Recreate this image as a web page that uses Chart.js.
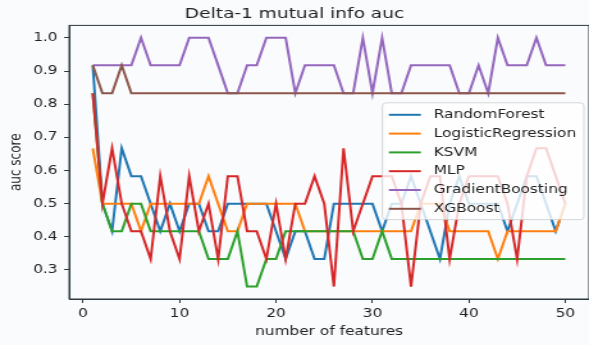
<!DOCTYPE html>
<html>
<head>
<meta charset="utf-8">
<script src="https://cdn.jsdelivr.net/npm/chart.js@4.4.1/dist/chart.umd.min.js"></script>
<style>
  html, body { margin: 0; padding: 0; background: #fafbfd; overflow: hidden; }
  /* the reference figure is stretched sideways, so the chart is drawn narrow and widened */
  #wrap { width: 460px; height: 345px; transform: scaleX(1.2804); transform-origin: 0 0; }
</style>
</head>
<body>
<div id="wrap"><canvas id="chart" width="460" height="345"></canvas></div>
<script>
// number of features (x)
const features = [1, 2, 3, 4, 5, 6, 7, 8, 9, 10, 11, 12, 13, 14, 15, 16, 17, 18, 19, 20,
  21, 22, 23, 24, 25, 26, 27, 28, 29, 30, 31, 32, 33, 34, 35, 36, 37, 38, 39, 40,
  41, 42, 43, 44, 45, 46, 47, 48, 49, 50];

// auc score per model
const randomForest = [0.917, 0.5, 0.417, 0.667, 0.583, 0.583, 0.5, 0.417, 0.5, 0.417,
  0.5, 0.5, 0.417, 0.417, 0.5, 0.5, 0.5, 0.5, 0.5, 0.417,
  0.333, 0.417, 0.417, 0.333, 0.333, 0.5, 0.5, 0.5, 0.5, 0.5,
  0.417, 0.5, 0.5, 0.583, 0.5, 0.417, 0.333, 0.5, 0.583, 0.5,
  0.5, 0.5, 0.5, 0.417, 0.5, 0.583, 0.583, 0.5, 0.417, 0.5];
const logisticRegression = [0.667, 0.5, 0.5, 0.5, 0.5, 0.417, 0.5, 0.5, 0.5, 0.5,
  0.5, 0.5, 0.583, 0.5, 0.417, 0.417, 0.5, 0.5, 0.5, 0.5,
  0.5, 0.5, 0.417, 0.417, 0.417, 0.417, 0.417, 0.417, 0.417, 0.417,
  0.417, 0.417, 0.417, 0.417, 0.5, 0.5, 0.5, 0.417, 0.417, 0.417,
  0.417, 0.417, 0.333, 0.417, 0.417, 0.417, 0.417, 0.417, 0.417, 0.5];
const ksvm = [0.833, 0.5, 0.417, 0.417, 0.5, 0.5, 0.417, 0.417, 0.417, 0.417,
  0.417, 0.417, 0.333, 0.333, 0.333, 0.417, 0.25, 0.25, 0.333, 0.333,
  0.417, 0.417, 0.417, 0.417, 0.417, 0.417, 0.417, 0.417, 0.333, 0.333,
  0.417, 0.333, 0.333, 0.333, 0.333, 0.333, 0.333, 0.333, 0.333, 0.333,
  0.333, 0.333, 0.333, 0.333, 0.333, 0.333, 0.333, 0.333, 0.333, 0.333];
const mlp = [0.833, 0.5, 0.667, 0.5, 0.417, 0.417, 0.333, 0.583, 0.417, 0.333,
  0.583, 0.417, 0.5, 0.333, 0.583, 0.583, 0.417, 0.417, 0.333, 0.5,
  0.333, 0.5, 0.5, 0.583, 0.5, 0.25, 0.667, 0.417, 0.5, 0.583,
  0.583, 0.583, 0.5, 0.25, 0.5, 0.583, 0.583, 0.333, 0.5, 0.583,
  0.583, 0.583, 0.583, 0.5, 0.333, 0.583, 0.667, 0.667, 0.583, 0.5];
const gradientBoosting = [0.917, 0.917, 0.917, 0.917, 0.917, 1.0, 0.917, 0.917, 0.917, 0.917,
  1.0, 1.0, 1.0, 0.917, 0.833, 0.833, 0.917, 0.917, 1.0, 1.0,
  1.0, 0.833, 0.917, 0.917, 0.917, 0.917, 0.833, 0.833, 1.0, 0.833,
  1.0, 0.833, 0.833, 0.917, 0.917, 0.917, 0.917, 0.917, 0.833, 0.833,
  0.917, 0.833, 1.0, 0.917, 0.917, 0.917, 1.0, 0.917, 0.917, 0.917];
const xgBoost = [0.917, 0.833, 0.833, 0.917, 0.833, 0.833, 0.833, 0.833, 0.833, 0.833,
  0.833, 0.833, 0.833, 0.833, 0.833, 0.833, 0.833, 0.833, 0.833, 0.833,
  0.833, 0.833, 0.833, 0.833, 0.833, 0.833, 0.833, 0.833, 0.833, 0.833,
  0.833, 0.833, 0.833, 0.833, 0.833, 0.833, 0.833, 0.833, 0.833, 0.833,
  0.833, 0.833, 0.833, 0.833, 0.833, 0.833, 0.833, 0.833, 0.833, 0.833];

const seriesNames = ['RandomForest', 'LogisticRegression', 'KSVM', 'MLP', 'GradientBoosting', 'XGBoost'];
const seriesValues = [randomForest, logisticRegression, ksvm, mlp, gradientBoosting, xgBoost];
const seriesColors = ['#1f77b4', '#ff7f0e', '#2ca02c', '#d62728', '#9467bd', '#8c564b'];

const xTicks = [0, 10, 20, 30, 40, 50];
const yTicks = [0.3, 0.4, 0.5, 0.6, 0.7, 0.8, 0.9, 1.0];

const AXIS = '#2e3a40';
const TEXT = '#222';
Chart.defaults.font.family = "'DejaVu Sans', sans-serif";

// spines on all four sides + matplotlib-style legend box inside the axes
const frameAndLegend = {
  id: 'frameAndLegend',
  afterDraw(chart) {
    const {ctx, chartArea: a} = chart;
    ctx.save();
    ctx.strokeStyle = AXIS;
    ctx.lineWidth = 1;
    ctx.strokeRect(a.left, a.top, a.right - a.left, a.bottom - a.top);

    const sets = chart.data.datasets;
    ctx.font = "12px 'DejaVu Sans'";
    const textW = Math.max(...sets.map((d) => ctx.measureText(d.label).width));
    const rowH = 18.8;
    const w = 40 + textW + 6;
    const h = rowH * sets.length + 4;
    const right = a.right - 4;
    const left = right - w;
    const top = (a.top + a.bottom) / 2 - h / 2 - 1;
    ctx.fillStyle = 'rgba(255,255,255,0.8)';
    ctx.strokeStyle = 'rgba(204,204,204,0.8)';
    ctx.beginPath();
    ctx.roundRect(left, top, w, h, 3);
    ctx.fill();
    ctx.stroke();
    sets.forEach((d, i) => {
      const y = top + 12 + i * rowH;
      ctx.strokeStyle = d.borderColor;
      ctx.lineWidth = d.borderWidth;
      ctx.beginPath();
      ctx.moveTo(left + 5, y);
      ctx.lineTo(left + 30, y);
      ctx.stroke();
      ctx.fillStyle = TEXT;
      ctx.textBaseline = 'middle';
      ctx.fillText(d.label, left + 40, y);
    });
    ctx.restore();
  },
};

new Chart(document.getElementById('chart'), {
  type: 'line',
  data: {
    datasets: seriesNames.map((name, i) => ({
      label: name,
      data: seriesValues[i].map((v, j) => ({x: features[j], y: v})),
      borderColor: seriesColors[i],
      backgroundColor: seriesColors[i],
      borderWidth: 2,
      pointRadius: 0,
      tension: 0,
      fill: false,
      order: seriesNames.length - i, // later series on top, like matplotlib
    })),
  },
  options: {
    responsive: false,
    animation: false,
    devicePixelRatio: 1,
    layout: {padding: 0},
    plugins: {
      legend: {display: false},
      tooltip: {enabled: false},
      title: {
        display: true,
        text: 'Delta-1 mutual info auc',
        color: TEXT,
        font: {size: 14.5, weight: 'normal'},
        padding: {top: 6, bottom: 2},
      },
    },
    scales: {
      x: {
        type: 'linear',
        min: -1.45,
        max: 52.45,
        afterBuildTicks: (s) => { s.ticks = xTicks.map((v) => ({value: v})); },
        afterFit: (s) => { s.height = 46; },
        grid: {drawOnChartArea: false, tickLength: 4, tickColor: AXIS},
        border: {color: AXIS, width: 1},
        ticks: {color: TEXT, font: {size: 12}, padding: 4, maxRotation: 0, callback: (v) => String(v)},
        title: {display: true, text: 'number of features', color: TEXT, font: {size: 12}, padding: {top: 0, bottom: 6}},
      },
      y: {
        min: 0.2125,
        max: 1.0375,
        afterBuildTicks: (s) => { s.ticks = yTicks.map((v) => ({value: v})); },
        afterFit: (s) => { s.width = 54; },
        grid: {drawOnChartArea: false, tickLength: 4, tickColor: AXIS},
        border: {color: AXIS, width: 1},
        ticks: {color: TEXT, font: {size: 12}, padding: 5, callback: (v) => v.toFixed(1)},
        title: {display: true, text: 'auc score', color: TEXT, font: {size: 12}, padding: {top: 6, bottom: 0}},
      },
    },
  },
  plugins: [frameAndLegend],
});
</script>
</body>
</html>
